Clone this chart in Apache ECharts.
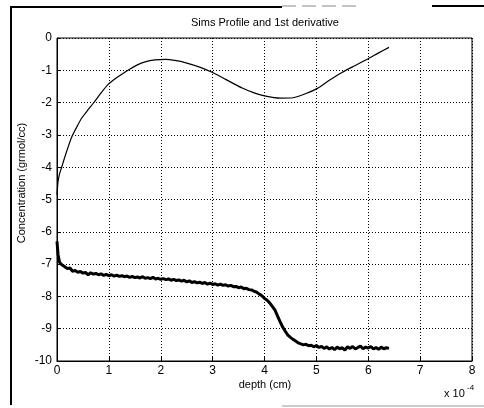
<!DOCTYPE html>
<html>
<head>
<meta charset="utf-8">
<script src="https://cdn.jsdelivr.net/npm/echarts@6/dist/echarts.min.js"></script>
<style>
  html, body { margin: 0; padding: 0; background: #fff; }
  #chart { width: 484px; height: 408px; }
</style>
</head>
<body>
<div id="chart"></div>
<script>
// Depth in units of 1e-4 cm; concentration as log10 (grmol/cc)
const xTicks = [0, 1, 2, 3, 4, 5, 6, 7, 8];
const yTicks = [0, -1, -2, -3, -4, -5, -6, -7, -8, -9, -10];

// First derivative (smooth curve)
const derivDepth = [0.00, 0.02, 0.05, 0.09, 0.14, 0.19, 0.28, 0.38, 0.48, 0.60, 0.70, 0.85, 0.99, 1.12, 1.25, 1.40, 1.54, 1.70, 1.89, 2.09,
  2.30, 2.47, 2.75, 3.00, 3.25, 3.57, 3.80, 4.00, 4.30, 4.55, 4.80, 5.02, 5.25, 5.50, 5.75, 6.00, 6.20, 6.40];
const derivValue = [-4.85, -4.45, -4.20, -4.00, -3.74, -3.49, -3.08, -2.76, -2.47, -2.22, -2.02, -1.70, -1.43, -1.26, -1.12, -0.97, -0.84, -0.74, -0.68, -0.66,
  -0.70, -0.76, -0.90, -1.07, -1.28, -1.55, -1.70, -1.79, -1.86, -1.85, -1.72, -1.56, -1.31, -1.06, -0.85, -0.64, -0.46, -0.29];

// Measured SIMS profile
const profileDepth = [
  0.00, 0.02, 0.05, 0.10, 0.15, 0.20, 0.25, 0.30, 0.35, 0.40, 0.45, 0.50, 0.55, 0.60, 0.65, 0.70, 0.75, 0.80, 0.85, 0.90, 0.95,
  1.00, 1.05, 1.10, 1.15, 1.20, 1.25, 1.30, 1.35, 1.40, 1.45, 1.50, 1.55, 1.60, 1.65, 1.70, 1.75, 1.80, 1.85, 1.90, 1.95,
  2.00, 2.05, 2.10, 2.15, 2.20, 2.25, 2.30, 2.35, 2.40, 2.45, 2.50, 2.55, 2.60, 2.65, 2.70, 2.75, 2.80, 2.85, 2.90, 2.95,
  3.00, 3.05, 3.10, 3.15, 3.20, 3.25, 3.30, 3.35, 3.40, 3.45, 3.50, 3.55, 3.60, 3.65, 3.70, 3.75, 3.80, 3.85, 3.90, 3.95,
  4.00, 4.05, 4.10, 4.15, 4.20, 4.25, 4.30, 4.35, 4.40, 4.45, 4.50, 4.55, 4.60, 4.65, 4.70, 4.75, 4.80, 4.85, 4.90, 4.95,
  5.00, 5.05, 5.10, 5.15, 5.20, 5.25, 5.30, 5.35, 5.40, 5.45, 5.50, 5.55, 5.60, 5.65, 5.70, 5.75, 5.80, 5.85, 5.90, 5.95,
  6.00, 6.05, 6.10, 6.15, 6.20, 6.25, 6.30, 6.35, 6.40
];
const profileValue = [
  -6.30, -6.70, -6.95, -7.03, -7.08, -7.14, -7.12, -7.22, -7.20, -7.25, -7.23, -7.28, -7.26, -7.33, -7.27, -7.31, -7.29, -7.33, -7.30, -7.35, -7.32,
  -7.36, -7.33, -7.37, -7.34, -7.38, -7.36, -7.39, -7.37, -7.41, -7.38, -7.42, -7.40, -7.43, -7.39, -7.44, -7.42, -7.45, -7.41, -7.46, -7.44,
  -7.47, -7.45, -7.48, -7.46, -7.50, -7.47, -7.51, -7.49, -7.53, -7.50, -7.55, -7.52, -7.57, -7.54, -7.58, -7.56, -7.60, -7.57, -7.62, -7.59,
  -7.63, -7.61, -7.65, -7.62, -7.66, -7.64, -7.68, -7.66, -7.70, -7.69, -7.73, -7.71, -7.76, -7.75, -7.79, -7.80, -7.84, -7.87, -7.93, -7.98,
  -8.06, -8.12, -8.20, -8.31, -8.42, -8.60, -8.78, -8.95, -9.08, -9.20, -9.27, -9.33, -9.38, -9.44, -9.47, -9.50, -9.48, -9.53, -9.51, -9.56,
  -9.52, -9.58, -9.55, -9.61, -9.56, -9.63, -9.58, -9.65, -9.57, -9.62, -9.59, -9.66, -9.56, -9.61, -9.55, -9.63, -9.58, -9.54, -9.62, -9.57,
  -9.60, -9.55, -9.63, -9.58, -9.64, -9.57, -9.62, -9.59, -9.61
];

const FONT = 'Liberation Sans, Arial, sans-serif';
const pairs = (xs, ys) => xs.map((x, i) => [x, ys[i]]);

const chart = echarts.init(document.getElementById('chart'), null, { renderer: 'canvas' });

const gridLine = { show: true, lineStyle: { color: '#000', width: 1, type: [1, 2] } };

chart.setOption({
  backgroundColor: '#fff',
  animation: false,
  grid: { left: 57, top: 38, width: 415, height: 323, show: true, borderColor: '#000', borderWidth: 1, backgroundColor: 'transparent' },
  xAxis: {
    type: 'value', min: xTicks[0], max: xTicks[xTicks.length - 1], interval: 1,
    axisLine: { show: true, onZero: false, lineStyle: { color: '#000', width: 1 } },
    axisTick: { show: true, inside: true, length: 4, lineStyle: { color: '#000' } },
    axisLabel: { color: '#000', fontFamily: FONT, fontSize: 12, margin: 4 },
    splitLine: gridLine
  },
  yAxis: {
    type: 'value', min: yTicks[yTicks.length - 1], max: yTicks[0], interval: 1,
    axisLine: { show: true, onZero: false, lineStyle: { color: '#000', width: 1 } },
    axisTick: { show: true, inside: true, length: 4, lineStyle: { color: '#000' } },
    axisLabel: { color: '#000', fontFamily: FONT, fontSize: 12, margin: 5 },
    splitLine: gridLine
  },
  series: [
    {
      type: 'line', data: pairs(derivDepth, derivValue), smooth: 0.2,
      showSymbol: false, lineStyle: { color: '#000', width: 1.2 }
    },
    {
      type: 'line', data: pairs(profileDepth, profileValue),
      showSymbol: false, lineStyle: { color: '#000', width: 3 }
    }
  ],
  graphic: [
    // outer figure frame
    { type: 'line', shape: { x1: 10, y1: 7, x2: 282, y2: 7 }, style: { stroke: '#000', lineWidth: 2 } },
    { type: 'line', shape: { x1: 282, y1: 6, x2: 362, y2: 6 }, style: { stroke: '#888', lineWidth: 1, lineDash: [14, 6] } },
    { type: 'line', shape: { x1: 432, y1: 6, x2: 484, y2: 6 }, style: { stroke: '#000', lineWidth: 2 } },
    { type: 'line', shape: { x1: 11, y1: 7, x2: 11, y2: 405 }, style: { stroke: '#000', lineWidth: 2 } },
    { type: 'line', shape: { x1: 282, y1: 406, x2: 484, y2: 406 }, style: { stroke: '#999', lineWidth: 1 } },
    // title and axis labels
    { type: 'text', x: 265, y: 23, style: { text: 'Sims Profile and 1st derivative', font: '11px ' + FONT, fill: '#000', textAlign: 'center', textVerticalAlign: 'middle' } },
    { type: 'text', x: 265, y: 385, style: { text: 'depth (cm)', font: '11px ' + FONT, fill: '#000', textAlign: 'center', textVerticalAlign: 'middle' } },
    { type: 'text', x: 22, y: 183, rotation: Math.PI / 2, style: { text: 'Concentration (grmol/cc)', font: '11px ' + FONT, fill: '#000', textAlign: 'center', textVerticalAlign: 'middle' } },
    { type: 'text', x: 444, y: 394, style: { text: 'x 10', font: '11px ' + FONT, fill: '#000', textAlign: 'left', textVerticalAlign: 'middle' } },
    { type: 'text', x: 467, y: 388, style: { text: '-4', font: '8px ' + FONT, fill: '#000', textAlign: 'left', textVerticalAlign: 'middle' } }
  ]
});
</script>
</body>
</html>
